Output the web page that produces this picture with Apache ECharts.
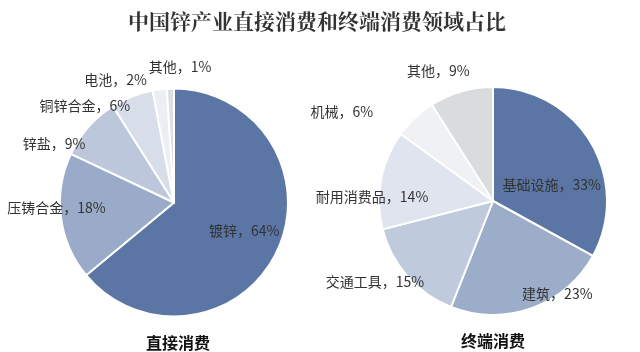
<!DOCTYPE html>
<html>
<head>
<meta charset="utf-8">
<script src="https://cdn.jsdelivr.net/npm/echarts@6/dist/echarts.min.js"></script>
<style>
html,body{margin:0;padding:0;background:#fff;}
#c{width:640px;height:352px;}
</style>
</head>
<body>
<div id="c"></div>
<script>
const titleText = '中国锌产业直接消费和终端消费领域占比';
const leftName = '直接消费';
const rightName = '终端消费';

const directCats = ['镀锌', '压铸合金', '锌盐', '铜锌合金', '电池', '其他'];
const directVals = [64, 18, 9, 6, 2, 1];
const directColors = ['#5b76a5', '#9aabc9', '#bcc7db', '#d8dee9', '#ebeef3', '#dcdee3'];
const directOffsets = [[16, 3], [-58, -2], [-75, -19], [-67, -41], [-51, -63], [8, -76]];

const endCats = ['基础设施', '建筑', '交通工具', '耐用消费品', '机械', '其他'];
const endVals = [33, 23, 15, 14, 6, 9];
const endColors = ['#5b76a5', '#9cadc9', '#c0cadd', '#dfe4ee', '#eff1f5', '#d9dbdf'];
const endOffsets = [[7, 14], [44, 36], [-73, 41], [-62, 7], [-110, -46], [-38, -73]];

const FONT = '"Noto Sans CJK SC", "Noto Sans", sans-serif';

function buildData(cats, vals, colors, offsets) {
  return cats.map((name, i) => ({
    name: name,
    value: vals[i],
    itemStyle: { color: colors[i] },
    label: { offset: offsets[i] }
  }));
}

function pieSeries(cats, vals, colors, offsets, center) {
  return {
    type: 'pie',
    center: center,
    radius: [0, 114],
    startAngle: 90,
    clockwise: true,
    avoidLabelOverlap: false,
    animation: false,
    itemStyle: { borderColor: '#ffffff', borderWidth: 2 },
    label: {
      show: true,
      position: 'inside',
      formatter: '{b}，{c}%',
      color: '#333333',
      fontSize: 14,
      fontFamily: FONT
    },
    labelLine: { show: false },
    emphasis: { disabled: true },
    data: buildData(cats, vals, colors, offsets)
  };
}

const chart = echarts.init(document.getElementById('c'), null, { renderer: 'canvas' });
chart.setOption({
  backgroundColor: '#ffffff',
  animation: false,
  title: [
    {
      text: titleText,
      left: 312,
      top: 6,
      textAlign: 'center',
      textStyle: { fontSize: 21, fontWeight: 'bold', color: '#333333', fontFamily: '"Noto Serif CJK SC", "Noto Sans CJK SC", serif' }
    },
    {
      text: leftName,
      left: 173,
      top: 330,
      textAlign: 'center',
      textStyle: { fontSize: 16, fontWeight: 'bold', color: '#111111', fontFamily: FONT }
    },
    {
      text: rightName,
      left: 488,
      top: 328,
      textAlign: 'center',
      textStyle: { fontSize: 16, fontWeight: 'bold', color: '#111111', fontFamily: FONT }
    }
  ],
  series: [
    pieSeries(directCats, directVals, directColors, directOffsets, [174, 202.5]),
    pieSeries(endCats, endVals, endColors, endOffsets, [493, 201])
  ]
});
</script>
</body>
</html>
